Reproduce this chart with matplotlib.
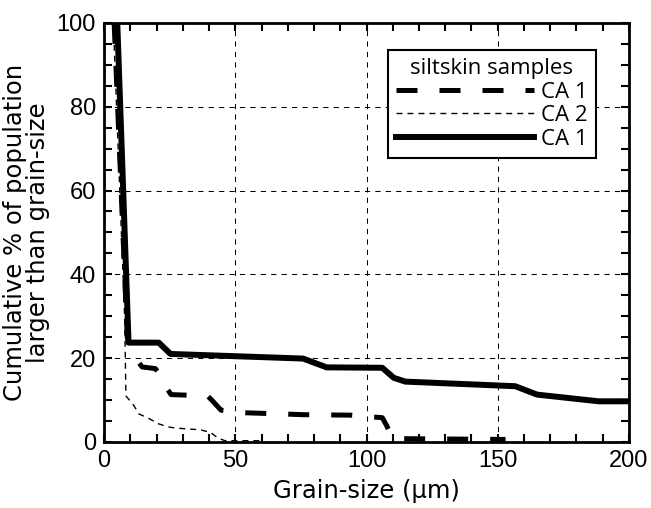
import matplotlib
matplotlib.use("Agg")
import matplotlib.pyplot as plt
from matplotlib.ticker import MultipleLocator

ca1_solid_x = [5, 9.3, 20.8, 25.3, 75.8, 84.8, 106, 110.4, 114.8, 156.7, 165, 188.5, 200]
ca1_solid_y = [100, 23.7, 23.7, 21.0, 19.9, 17.8, 17.7, 15.3, 14.4, 13.3, 11.3, 9.7, 9.7]

ca1_dash_x = [3.8, 8.8, 10.5, 12.6, 14.5, 19.5, 21.5, 23.6, 25.5, 30, 39.4, 41.3, 44.5,
              52, 76.5, 93.7, 101.5, 106, 107.6, 110, 153]
ca1_dash_y = [100, 25, 21, 19.4, 17.9, 17.5, 16, 13.1, 11.3, 11.2, 11.0, 9.8, 7.6,
              7.0, 6.5, 6.4, 6.0, 5.8, 4.0, 0.8, 0.6]

ca2_x = [3.5, 7.8, 8.3, 11.3, 13.2, 17.1, 20.4, 24.3, 27.5, 36.8, 40.7, 43.2, 46, 60]
ca2_y = [100, 30, 11, 8.7, 6.7, 5.6, 4.4, 3.6, 3.3, 2.9, 2.2, 1.0, 0.3, 0.3]

plt.rcParams['font.family'] = ['Liberation Sans', 'DejaVu Sans']

fig = plt.figure(figsize=(6.51, 5.08), dpi=100)
ax = fig.add_axes([0.16, 0.13, 0.806, 0.825])

# curves
ax.plot(ca1_dash_x, ca1_dash_y, color='black', lw=3.6, dashes=(4.2, 4.4),
        solid_joinstyle='miter', label='CA 1')
ax.plot(ca2_x, ca2_y, color='black', lw=1.0, dashes=(4.3, 3.6), label='CA 2')
ax.plot(ca1_solid_x, ca1_solid_y, color='black', lw=4.3, label='CA 1')

ax.set_xlim(0, 200)
ax.set_ylim(0, 100)

# ticks and grid
ax.xaxis.set_major_locator(MultipleLocator(50))
ax.xaxis.set_minor_locator(MultipleLocator(10))
ax.yaxis.set_major_locator(MultipleLocator(20))
ax.yaxis.set_minor_locator(MultipleLocator(5))
ax.tick_params(which='both', direction='in', top=True, right=True, width=1.5,
               labelsize=17, color='black')
ax.tick_params(which='major', length=6, pad=6)
ax.tick_params(which='minor', length=6)
ax.grid(which='major', color='black', lw=0.75, dashes=(5, 5))
for sp in ax.spines.values():
    sp.set_linewidth(2)

ax.set_xlabel('Grain-size (\u00b5m)', fontsize=17.5, family='DejaVu Sans', labelpad=5)
ax.set_ylabel('Cumulative % of population\nlarger than grain-size', fontsize=17.5,
              family='DejaVu Sans', linespacing=0.9, labelpad=5)

leg = ax.legend(title='siltskin samples', loc='upper right',
                bbox_to_anchor=(0.937, 0.935), borderaxespad=0,
                handlelength=6.2, handletextpad=0.35, labelspacing=0.12,
                fancybox=False, framealpha=1, edgecolor='black',
                prop={'family': 'Open Sans', 'size': 16},
                title_fontproperties={'family': 'Open Sans', 'size': 16},
                borderpad=0.35)
leg.get_frame().set_linewidth(1.5)

fig.savefig('out.png', dpi=100)
